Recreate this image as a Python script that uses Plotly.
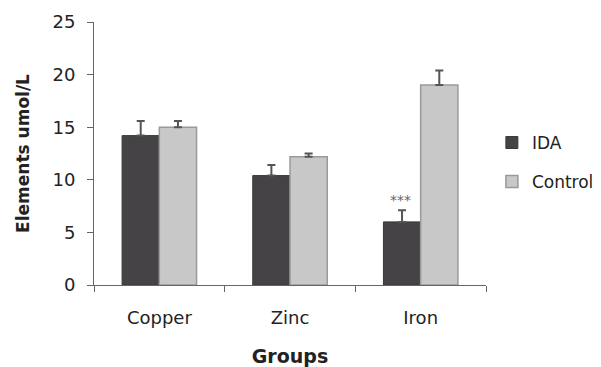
import plotly.graph_objects as go

# Mean serum trace element levels (umol/L) with upper SD bars
groups = ["Copper", "Zinc", "Iron"]
ida_values = [14.2, 10.4, 6.0]
ida_errors = [1.4, 1.0, 1.1]
control_values = [15.0, 12.2, 19.0]
control_errors = [0.6, 0.3, 1.4]
y_ticks = [0, 5, 10, 15, 20, 25]

FONT = "DejaVu Sans, Arial, sans-serif"
TEXT = "#222222"
AXIS = "#666666"

fig = go.Figure()
fig.add_trace(go.Bar(
    name="IDA", x=groups, y=ida_values, legendgroup="ida",
    marker=dict(color="#454345", line=dict(color="#3a383a", width=1)),
    error_y=dict(type="data", array=ida_errors, arrayminus=[0] * 3,
                 symmetric=False, color="#555555", thickness=2, width=4),
))
fig.add_trace(go.Bar(
    name="Control", x=groups, y=control_values, legendgroup="control",
    marker=dict(color="#c8c8c8", line=dict(color="#9a9a9a", width=1.5)),
    error_y=dict(type="data", array=control_errors, arrayminus=[0] * 3,
                 symmetric=False, color="#555555", thickness=2, width=4),
))

# Significance marker above the iron IDA bar
fig.add_annotation(x=2, y=ida_values[2] + ida_errors[2] + 1.0, xshift=-20,
                   text="***", showarrow=False,
                   font=dict(family=FONT, size=14, color="#666666"))

fig.update_layout(
    width=601, height=367,
    margin=dict(l=94, r=115, t=22, b=82, autoexpand=False),
    paper_bgcolor="white", plot_bgcolor="white",
    barmode="group", bargap=0.43, bargroupgap=0,
    font=dict(family=FONT, color=TEXT),
    legend=dict(x=1.015, y=0.466, xanchor="left", yanchor="middle",
                font=dict(family=FONT, size=17, color=TEXT),
                itemwidth=30, tracegroupgap=14, borderwidth=0),
    showlegend=True,
)
fig.update_xaxes(
    type="category", range=[-0.5, 2.5], automargin=False,
    showline=True, linecolor=AXIS, linewidth=1,
    ticks="outside", tickson="boundaries", ticklen=6, tickcolor=AXIS,
    ticklabelstandoff=16,
    tickfont=dict(family=FONT, size=18, color=TEXT),
    title=dict(text="<b>Groups</b>", font=dict(family=FONT, size=19, color=TEXT),
               standoff=26),
    showgrid=False,
)
fig.update_yaxes(
    range=[0, 25], tickvals=y_ticks, automargin=False,
    showline=True, linecolor=AXIS, linewidth=1,
    ticks="outside", ticklen=6, tickcolor=AXIS,
    ticklabelstandoff=8,
    tickfont=dict(family=FONT, size=18, color=TEXT),
    title=dict(text="<b>Elements umol/L</b>", font=dict(family=FONT, size=17, color=TEXT),
               standoff=18),
    showgrid=False, zeroline=False,
)

fig.write_html("out.html")
